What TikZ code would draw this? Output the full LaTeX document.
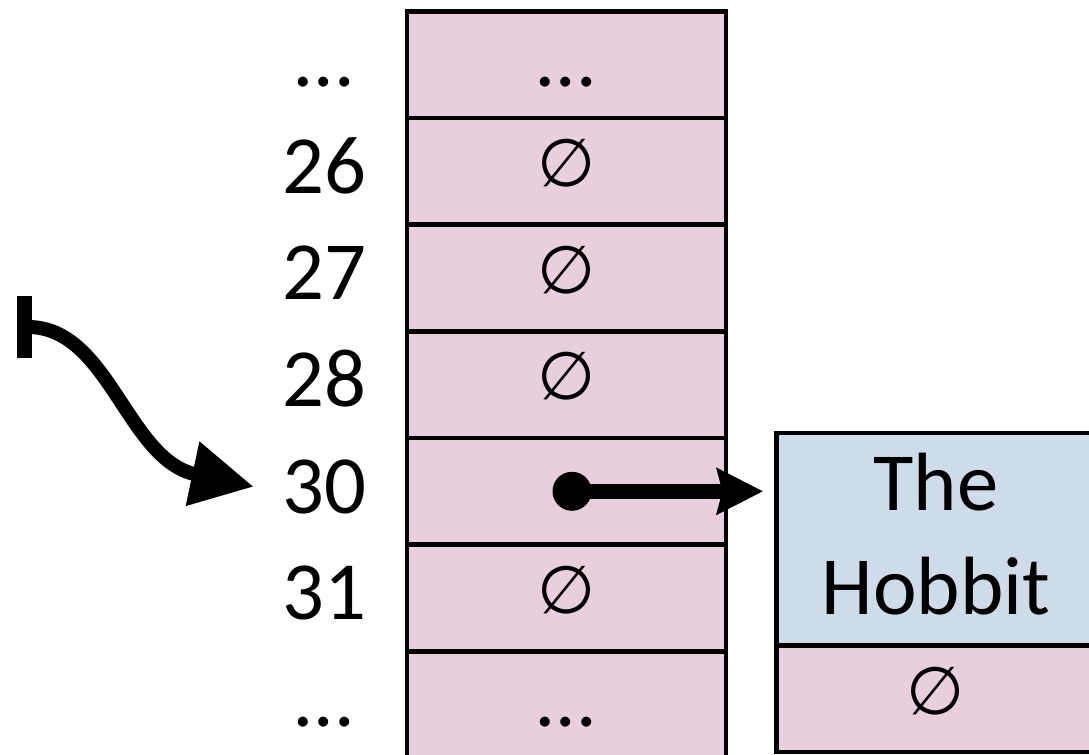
\documentclass[tikz,border=0pt]{standalone}
\usepackage{fontspec}
\setmainfont{Carlito}
\newfontfamily\symfont{DejaVu Sans}
\usetikzlibrary{positioning,arrows.meta}
\definecolor{cellpink}{RGB}{233,207,221}
\definecolor{bookblue}{RGB}{205,220,232}
\newcommand\emptymark{\raisebox{5pt}{\symfont\fontsize{50}{60}\selectfont ∅}}
\begin{document}
\begin{tikzpicture}[x=0.75pt, y=-0.75pt,
    cell/.style={draw, line width=3.4pt, fill=cellpink, minimum width=239.25pt,
      minimum height=80pt, inner sep=0pt, outer sep=0pt,
      text height=33pt, text depth=0pt, font=\fontsize{62}{78}\selectfont},
    idx/.style={inner sep=0pt, anchor=base, font=\fontsize{62}{78}\selectfont}]
  \useasboundingbox (0,0) rectangle (1089,755);
  % hash table slots
  \foreach \txt [count=\i from 0] in {…,\emptymark,\emptymark,\emptymark,,\emptymark,…}
    \node[cell] (r\i) at (566.5,64.6+106.67*\i) {\txt};
  % slot indices
  \foreach \lab [count=\i from 0] in {…,26,27,28,30,31,…}
    \node[idx] (l\i) at (324,86.6+106.67*\i) {\lab};
  % entry the slot points to
  \node[cell, fill=bookblue, minimum height=159.4pt, text height=112.5pt,
    text depth=0pt, align=center] (book) at (936,539.25) {The\\Hobbit};
  \node[cell, below=0pt of book] (booknext) {\emptymark};
  % pointer out of slot 30
  \node[circle, fill, inner sep=0pt, minimum size=29.25pt] (ref) at (572,491.3) {};
  \draw[line width=11.25pt, -{Stealth[length=34.5pt, width=34pt, inset=4pt]},
    shorten >=10pt] (ref.center) -- (ref -| book.west);
  % lookup arrow
  \coordinate (src) at (17,327);
  \draw[line width=10.5pt, {Bar[width=47pt, line width=11pt]}-{Triangle[length=47pt, width=46.5pt]}]
    (src) .. controls +(92,0) and +(-127,-27) .. ([xshift=-21pt]l4.west);
\end{tikzpicture}
\end{document}
